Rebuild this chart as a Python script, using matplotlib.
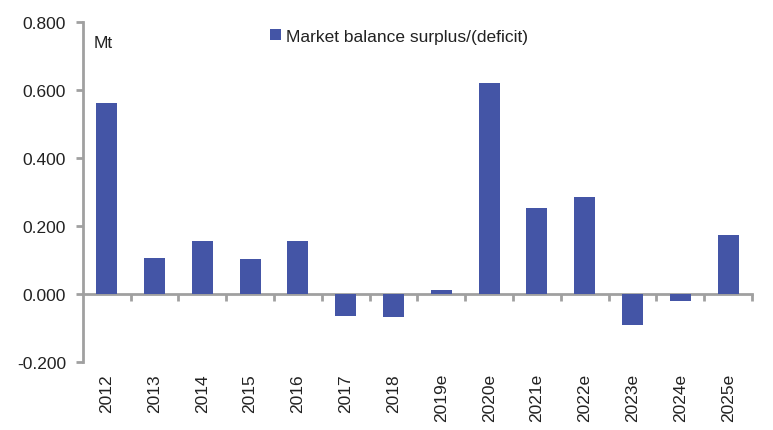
import matplotlib
matplotlib.use("Agg")
import matplotlib.pyplot as plt
import numpy as np

categories = ["2012", "2013", "2014", "2015", "2016", "2017", "2018", "2019e",
              "2020e", "2021e", "2022e", "2023e", "2024e", "2025e"]
values = [0.562, 0.106, 0.156, 0.103, 0.156, -0.065, -0.068, 0.012,
          0.621, 0.253, 0.285, -0.091, -0.021, 0.174]
yticks = [-0.2, 0.0, 0.2, 0.4, 0.6, 0.8]

plt.rcParams['font.family'] = ['Liberation Sans', 'DejaVu Sans']
bar_color = "#4455A6"
axis_color = "#A0A0A0"
text_color = "#222222"

fig = plt.figure(figsize=(7.73, 4.31), dpi=100)
ax = fig.add_axes([0.107, 0.158, 0.866, 0.7885])

x = np.arange(len(categories))
ax.bar(x, values, width=0.44, color=bar_color, zorder=3,
       label="Market balance surplus/(deficit)")

ax.set_xlim(-0.5, len(categories) - 0.5)
ax.set_ylim(-0.2, 0.8)
ax.set_yticks(yticks)
ax.set_yticklabels([f"{v:.3f}" for v in yticks], fontsize=12.5, color=text_color)

for s in ["top", "right"]:
    ax.spines[s].set_visible(False)
ax.spines["left"].set_color(axis_color)
ax.spines["left"].set_linewidth(2)
ax.spines["bottom"].set_position(("data", 0))
ax.spines["bottom"].set_color(axis_color)
ax.spines["bottom"].set_linewidth(2)

ax.set_xticks(np.arange(0.5, len(categories) + 0.5, 1.0))
ax.set_xticklabels([])
ax.tick_params(axis="x", direction="out", length=5, width=2, color=axis_color)
ax.tick_params(axis="y", direction="out", length=5, width=2, color=axis_color, pad=7)

trans = matplotlib.transforms.blended_transform_factory(ax.transData, ax.transAxes)
for xi, lab in zip(x, categories):
    ax.text(xi, -0.033, lab, rotation=90, ha="center", va="top",
            fontsize=12.5, color=text_color, transform=trans)

ax.text(0.017, 0.94, "Mt", transform=ax.transAxes, fontsize=12.5,
        color=text_color, va="center", ha="left")

leg = ax.legend(loc="upper left", bbox_to_anchor=(0.27, 1.0), frameon=False,
                fontsize=12.5, handlelength=0.6, handleheight=0.6,
                handletextpad=0.3, borderaxespad=0.0)
for t in leg.get_texts():
    t.set_color(text_color)

fig.savefig("out.png", dpi=100, facecolor="white")
